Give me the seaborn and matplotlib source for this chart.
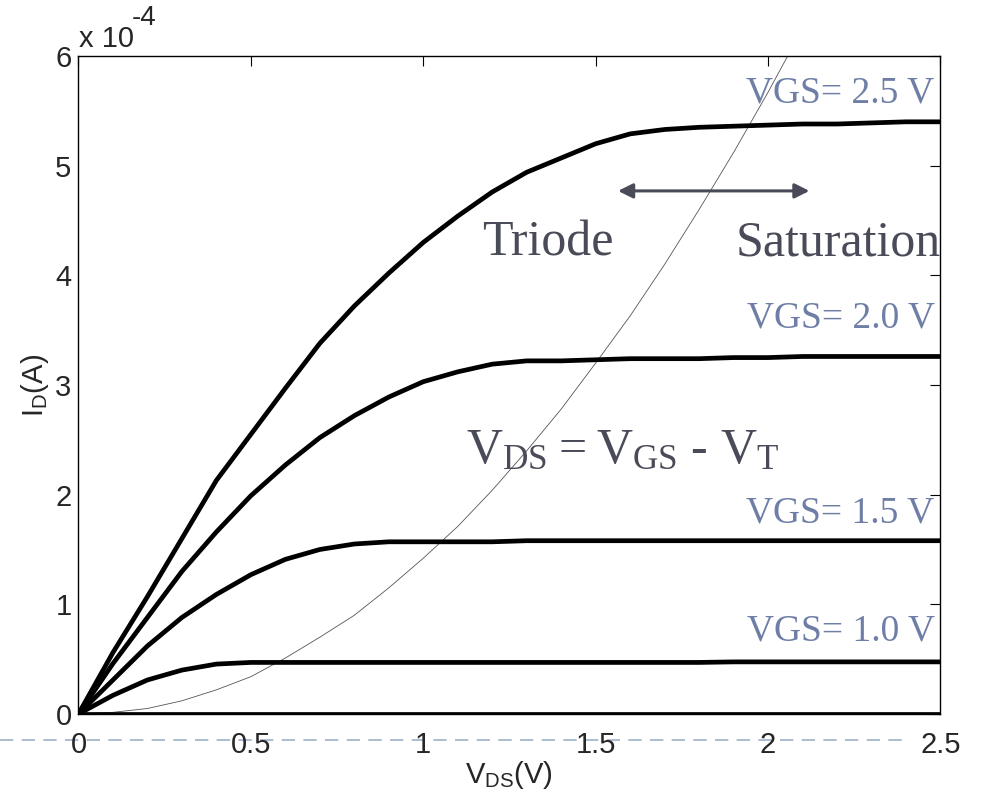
import numpy as np
import pandas as pd
import matplotlib
matplotlib.use("Agg")
import matplotlib.pyplot as plt
from matplotlib.lines import Line2D
import seaborn as sns

# ---- data (current in units of 1e-4 A) ----
vds = [0.0, 0.1, 0.2, 0.3, 0.4, 0.5, 0.6, 0.7, 0.8, 0.9, 1.0, 1.1, 1.2,
       1.3, 1.4, 1.5, 1.6, 1.7, 1.8, 1.9, 2.0, 2.1, 2.2, 2.3, 2.4, 2.5]
id_vgs25 = [0.0, 0.56, 1.07, 1.60, 2.13, 2.55, 2.97, 3.38, 3.72, 4.02, 4.30, 4.54, 4.76,
            4.94, 5.07, 5.20, 5.29, 5.33, 5.35, 5.36, 5.37, 5.38, 5.38, 5.39, 5.40, 5.40]
id_vgs20 = [0.0, 0.46, 0.88, 1.30, 1.66, 1.99, 2.27, 2.52, 2.72, 2.89, 3.03, 3.12, 3.19,
            3.22, 3.22, 3.23, 3.24, 3.24, 3.24, 3.25, 3.25, 3.26, 3.26, 3.26, 3.26, 3.26]
id_vgs15 = [0.0, 0.31, 0.62, 0.88, 1.09, 1.27, 1.41, 1.50, 1.55, 1.57, 1.57, 1.57, 1.57,
            1.58, 1.58, 1.58, 1.58, 1.58, 1.58, 1.58, 1.58, 1.58, 1.58, 1.58, 1.58, 1.58]
id_vgs10 = [0.0, 0.17, 0.31, 0.40, 0.455, 0.47, 0.47, 0.47, 0.47, 0.47, 0.47, 0.47, 0.47,
            0.47, 0.47, 0.47, 0.47, 0.47, 0.47, 0.475, 0.475, 0.475, 0.475, 0.475, 0.475, 0.475]
id_vgs05 = [0.0] * len(vds)

# boundary locus V_DS = V_GS - V_T
vds_sat = [0.0, 0.1, 0.2, 0.3, 0.4, 0.5, 0.6, 0.7, 0.8, 0.9, 1.0, 1.1,
           1.2, 1.3, 1.4, 1.5, 1.6, 1.7, 1.8, 1.9, 2.0, 2.1]
id_sat = [0.0, 0.015, 0.05, 0.12, 0.22, 0.34, 0.51, 0.70, 0.90, 1.15, 1.42, 1.71,
          2.04, 2.40, 2.78, 3.20, 3.63, 4.10, 4.60, 5.12, 5.67, 6.25]

vgs_labels = ["VGS= 2.5 V", "VGS= 2.0 V", "VGS= 1.5 V", "VGS= 1.0 V"]
label_y = [5.66, 3.61, 1.83, 0.75]
x_ticks = [0, 0.5, 1, 1.5, 2, 2.5]
y_ticks = [0, 1, 2, 3, 4, 5, 6]

# ---- build long-form table ----
series = {"2.5": id_vgs25, "2.0": id_vgs20, "1.5": id_vgs15, "1.0": id_vgs10, "0.5": id_vgs05}
df = pd.concat([pd.DataFrame({"V": vds, "I": vals, "VGS": k}) for k, vals in series.items()],
               ignore_index=True)
df_sat = pd.DataFrame({"V": vds_sat, "I": id_sat})

sns.set_style("white")
plt.rcParams["font.family"] = ["Liberation Sans", "DejaVu Sans"]

fig = plt.figure(figsize=(9.82, 7.98), dpi=100)
ax = fig.add_axes([0.0799, 0.1053, 0.8778, 0.8245])

sns.lineplot(data=df_sat, x="V", y="I", ax=ax, color="#555555", linewidth=0.6,
             estimator=None, sort=False)
sns.lineplot(data=df, x="V", y="I", hue="VGS", ax=ax,
             palette=["black"] * 5, linewidth=3.4, estimator=None, sort=False,
             legend=False)
for ln in ax.lines:
    ln.set_solid_joinstyle("round")
    ln.set_solid_capstyle("butt")

ax.set_xlim(0, 2.5)
ax.set_ylim(0, 6)
ax.set_xticks(x_ticks)
ax.set_xticklabels(["0", "0.5", "1", "1.5", "2", "2.5"])
ax.set_yticks(y_ticks)
ax.set_yticklabels([str(t) for t in y_ticks])
ax.tick_params(axis="both", direction="in", top=True, right=True, length=7,
               width=0.8, labelsize=21, color="black")
ax.tick_params(axis="x", pad=12)
ax.tick_params(axis="y", pad=5)
for sp in ax.spines.values():
    sp.set_visible(True)
    sp.set_color("black")
    sp.set_linewidth(1.0)

ax.set_xlabel(r"$\mathregular{V_{DS}(V)}$", fontsize=21, labelpad=0)
ax.set_ylabel(r"$\mathregular{I_D(A)}$", fontsize=21, labelpad=3)

# MATLAB-style exponent label
fig.text(79 / 982, 1 - 47 / 798, "x 10", fontsize=21, ha="left", va="baseline")
fig.text(132 / 982, 1 - 25 / 798, "-4", fontsize=20, ha="left", va="baseline")

serif = ["Liberation Serif", "DejaVu Serif"]
lab_col = "#6e7ea6"
for txt, yy in zip(vgs_labels, label_y):
    ax.text(2.483, yy, txt, fontsize=27, family=serif, color=lab_col,
            ha="right", va="center")

dark = "#4a4b58"
ax.text(1.36, 4.29, "Triode", fontsize=36, family=serif, color=dark,
        ha="center", va="center")
ax.text(2.50, 4.29, "Saturation", fontsize=36, family=serif, color=dark,
        ha="right", va="center")
ax.text(1.124, 2.40, r"$\mathregular{V_{DS} = V_{GS}}$ - $\mathregular{V_T}$",
        fontsize=36, family=serif, color=dark, ha="left", va="center")

ax.annotate("", xy=(1.565, 4.77), xytext=(2.12, 4.77),
            arrowprops=dict(arrowstyle="<|-|>", color=dark, lw=2.2,
                            mutation_scale=22, shrinkA=0, shrinkB=0))

fig.add_artist(Line2D([0.0, 0.92], [0.0727, 0.0727], transform=fig.transFigure,
                      color="#9db2c7", linewidth=1.2, linestyle=(0, (8, 5)),
                      zorder=0))

fig.savefig("out.png", dpi=100)
